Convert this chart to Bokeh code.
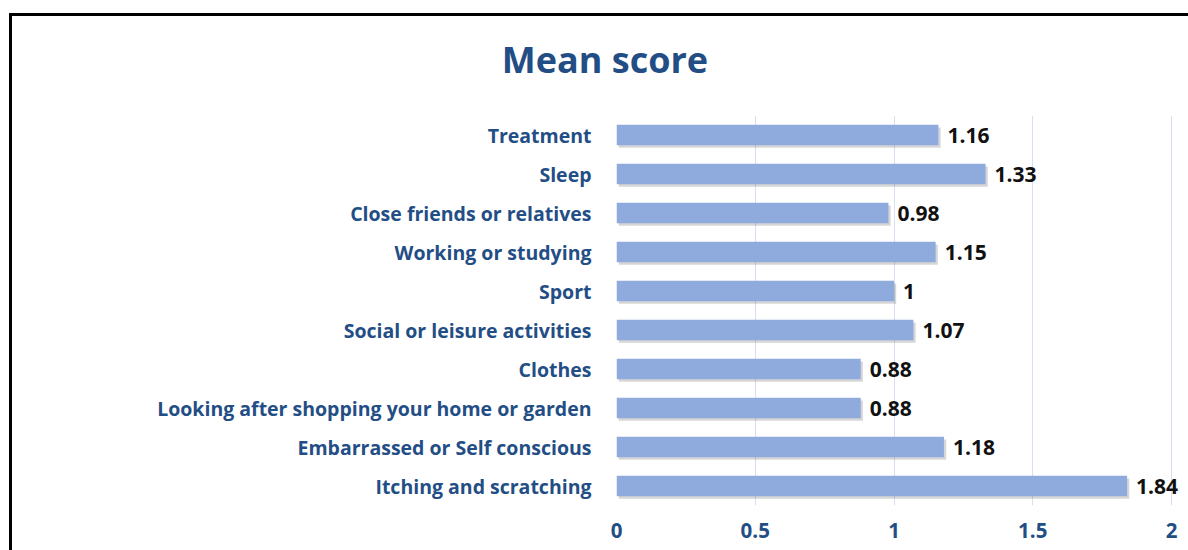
from bokeh.plotting import figure
from bokeh.models import ColumnDataSource, FactorRange, Range1d, FixedTicker, Div
from bokeh.layouts import column
from bokeh.transform import dodge
from bokeh.embed import file_html
from bokeh.resources import INLINE
from bokeh.core.properties import value

categories = ["Treatment", "Sleep", "Close friends or relatives", "Working or studying",
              "Sport", "Social or leisure activities", "Clothes",
              "Looking after shopping your home or garden",
              "Embarrassed or Self conscious", "Itching and scratching"]
scores = [1.16, 1.33, 0.98, 1.15, 1.0, 1.07, 0.88, 0.88, 1.18, 1.84]
score_labels = ["1.16", "1.33", "0.98", "1.15", "1", "1.07", "0.88", "0.88", "1.18", "1.84"]
x_ticks = [0, 0.5, 1, 1.5, 2]
x_tick_labels = ["0", "0.5", "1", "1.5", "2"]
chart_title = "Mean score"

FONT = "Open Sans"
BLUE = "#234E85"

src = ColumnDataSource(dict(cat=categories, val=scores, lab=score_labels))

title_div = Div(text=chart_title, width=1176, height=99, margin=0,
                styles={"font-family": FONT, "font-size": "36px", "font-weight": "bold",
                        "color": BLUE, "text-align": "center", "line-height": "44px",
                        "padding-top": "22px", "padding-left": "10px",
                        "box-sizing": "border-box"})

p = figure(width=1176, height=435,
           y_range=FactorRange(*reversed(categories)),
           x_range=Range1d(0, 2.054),
           output_backend="svg", toolbar_location=None,
           min_border_left=604, min_border_right=2,
           min_border_top=0, min_border_bottom=45)

p.outline_line_color = None
p.ygrid.grid_line_color = None
p.xgrid.ticker = FixedTicker(ticks=x_ticks)
p.xgrid.grid_line_color = "#D6E0F0"

p.xaxis.ticker = FixedTicker(ticks=x_ticks)
p.xaxis.major_label_overrides = {t: s for t, s in zip(x_ticks, x_tick_labels)}
for ax in (p.xaxis[0], p.yaxis[0]):
    ax.axis_line_color = None
    ax.major_tick_line_color = None
    ax.minor_tick_line_color = None
    ax.major_label_text_font = FONT
    ax.major_label_text_font_style = "bold"
    ax.major_label_text_color = BLUE
p.yaxis.major_label_text_font_size = "19.5px"
p.xaxis.major_label_text_font_size = "20.5px"
p.yaxis.major_label_standoff = 19
p.xaxis.major_label_standoff = 11

# soft shadow
p.hbar(y=dodge("cat", -0.07, range=p.y_range), left=0.008, right=dodge("val", 0.008),
       height=0.52, source=src, fill_color="#000000", fill_alpha=0.16, line_color=None)
p.hbar(y="cat", left=0, right="val", height=0.52, source=src,
       fill_color="#8FAADC", line_color=None)

p.text(x="val", y="cat", text="lab", source=src, x_offset=9,
       text_baseline="middle", text_align="left",
       text_font=value(FONT), text_font_style="bold", text_font_size="21px",
       text_color="#111111")

layout = column(title_div, p, spacing=0)
layout.styles = {"border-left": "3px solid black", "border-top": "3px solid black",
                 "margin-left": "9px", "margin-top": "13px"}

open("out.html", "w").write(file_html(layout, INLINE))
